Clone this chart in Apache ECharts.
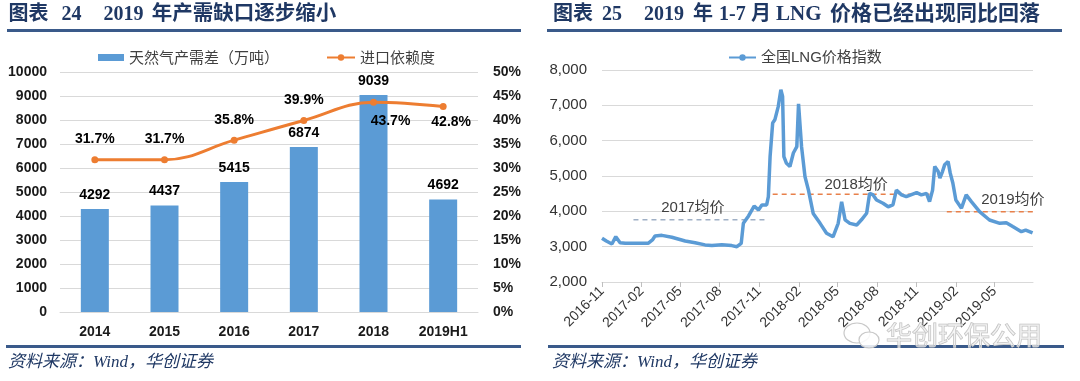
<!DOCTYPE html>
<html><head><meta charset="utf-8">
<script src="https://cdn.jsdelivr.net/npm/echarts@6/dist/echarts.min.js"></script>
<style>html,body{margin:0;padding:0;background:#fff}#c{width:1080px;height:381px}</style>
</head><body><div id="c"></div>
<script>
// ---------- Left chart data ----------
const years = ['2014', '2015', '2016', '2017', '2018', '2019H1'];
const gapValues = [4292, 4437, 5415, 6874, 9039, 4692];
const importDependence = [31.7, 31.7, 35.8, 39.9, 43.7, 42.8];

// ---------- Right chart data ----------
const lngDates = ['2016-11-01','2016-11-11','2016-11-24','2016-12-03','2016-12-13','2016-12-25','2017-01-17','2017-02-16','2017-02-26','2017-03-04','2017-03-20','2017-04-12','2017-05-13','2017-06-05','2017-06-28','2017-07-14','2017-08-06','2017-08-29','2017-09-10','2017-09-20','2017-09-25','2017-10-07','2017-10-20','2017-10-30','2017-11-07','2017-11-18','2017-11-22','2017-11-26','2017-12-02','2017-12-07','2017-12-11','2017-12-15','2017-12-21','2017-12-25','2017-12-28','2018-01-03','2018-01-11','2018-01-19','2018-01-27','2018-01-31','2018-02-07','2018-02-15','2018-02-23','2018-03-06','2018-03-22','2018-04-06','2018-04-21','2018-05-03','2018-05-11','2018-05-19','2018-05-30','2018-06-15','2018-06-26','2018-07-08','2018-07-15','2018-07-23','2018-07-31','2018-08-15','2018-08-27','2018-09-07','2018-09-15','2018-09-27','2018-10-08','2018-11-01','2018-11-12','2018-11-24','2018-12-01','2018-12-08','2018-12-13','2018-12-21','2018-12-25','2018-12-31','2019-01-05','2019-01-13','2019-01-18','2019-01-24','2019-01-31','2019-02-13','2019-02-24','2019-03-08','2019-03-27','2019-04-19','2019-05-13','2019-05-28','2019-06-12','2019-07-02','2019-07-12','2019-07-28'];
const lngValues = [3240,3160,3075,3283,3113,3095,3095,3095,3190,3300,3320,3266,3160,3113,3050,3030,3057,3030,3000,3094,3660,3870,4150,4040,4180,4180,4415,5550,6500,6590,6540,6970,7440,7250,5550,5360,5270,5650,5830,7040,5830,4980,4600,3940,3660,3380,3280,3660,4270,3760,3660,3615,3760,3945,4510,4465,4320,4230,4130,4180,4600,4465,4415,4530,4465,4510,4275,4600,5270,5125,4940,5125,5315,5410,5080,4800,4320,4090,4465,4275,3990,3755,3660,3680,3570,3425,3470,3390];
const avgNames = ['2017均价', '2018均价', '2019均价'];
const avgValues = [3760, 4480, 3990];
const avgStart = ['2017-01-13', '2017-12-02', '2019-01-10'];
const avgEnd = ['2017-11-22', '2018-12-01', '2019-07-29'];
const xTickDates = ['2016-11-01','2017-02-01','2017-05-01','2017-08-01','2017-11-01','2018-02-01','2018-05-01','2018-08-01','2018-11-01','2019-02-01','2019-05-01'];
const xRange = ['2016-11-01', '2019-07-29'];

function ts(s) { const p = s.split('-').map(Number); return new Date(p[0], p[1] - 1, p[2]).getTime(); }
function ym(v) { const d = new Date(v); return d.getFullYear() + '-' + String(d.getMonth() + 1).padStart(2, '0'); }

const NAVY = '#1F3864';
const RULE = '#3A5A8A';
const GRID = '#D9D9D9';
const TXT = '#404040';
const titleFont = 'bold 20px "Liberation Serif","Noto Sans CJK SC",serif';

function txt(text, x, y, font, fill, z) {
  return { type: 'text', x: x, y: y, z: z || 10, style: { text: text, font: font, fill: fill, verticalAlign: 'middle', align: 'left' } };
}
function rule(x1, x2, y) {
  return { type: 'line', z: 5, shape: { x1: x1, y1: y, x2: x2, y2: y }, style: { stroke: RULE, lineWidth: 3 } };
}

const lineLabelCfg = (i) => {
  if (i === 4) return { position: 'bottom', offset: [17, 3] };
  if (i === 5) return { position: 'bottom', offset: [8, 0] };
  return { position: 'top', distance: 10 };
};
const avgLabelOffsets = [[-8, -12], [5, -10], [23, -12]];

const avgSeries = avgNames.map((n, k) => ({
  name: n, type: 'line', xAxisIndex: 1, yAxisIndex: 2, symbol: 'none', silent: true,
  lineStyle: { width: 1.5, type: [5, 4], color: k === 0 ? '#9FB0C6' : '#E8804A' },
  data: [[ts(avgStart[k]), avgValues[k]], [ts(avgEnd[k]), avgValues[k]]],
  markPoint: {
    symbol: 'circle', symbolSize: 0, silent: true,
    label: { show: true, formatter: n, color: TXT, fontSize: 15, fontFamily: '"Liberation Sans","Noto Sans CJK SC",sans-serif', offset: avgLabelOffsets[k] },
    data: [{ coord: [(ts(avgStart[k]) + ts(avgEnd[k])) / 2, avgValues[k]] }]
  }
}));

const chart = echarts.init(document.getElementById('c'), null, { renderer: 'canvas' });
chart.setOption({
  animation: false,
  backgroundColor: '#fff',
  textStyle: { fontFamily: '"Liberation Sans","Noto Sans CJK SC",sans-serif' },
  legend: [
    { left: 93, top: 45, data: ['天然气产需差（万吨）'], icon: 'rect', itemWidth: 26, itemHeight: 7,
      textStyle: { fontSize: 15, color: TXT, fontFamily: '"Noto Sans CJK SC",sans-serif' } },
    { left: 321, top: 45, data: ['进口依赖度'], itemWidth: 28, itemHeight: 8,
      textStyle: { fontSize: 15, color: TXT, fontFamily: '"Noto Sans CJK SC",sans-serif' } },
    { left: 723, top: 45, data: ['全国LNG价格指数'], itemWidth: 27, itemHeight: 8,
      textStyle: { fontSize: 15, color: TXT, fontFamily: '"Liberation Sans","Noto Sans CJK SC",sans-serif' } }
  ],
  grid: [
    { left: 60, right: 602, top: 72, bottom: 69 },
    { left: 602, right: 47, top: 70, bottom: 99 }
  ],
  xAxis: [
    { type: 'category', gridIndex: 0, data: years,
      axisLine: { lineStyle: { color: GRID } }, axisTick: { show: false },
      axisLabel: { fontSize: 14, fontWeight: 'bold', color: '#1a1a1a', margin: 13 } },
    { type: 'value', gridIndex: 1, min: ts(xRange[0]), max: ts(xRange[1]), scale: true,
      axisLine: { show: true, lineStyle: { color: GRID } },
      axisTick: { show: true, customValues: xTickDates.map(ts), length: 5, lineStyle: { color: '#BFBFBF' } },
      axisLabel: { customValues: xTickDates.map(ts), rotate: 45, formatter: ym, fontSize: 14, color: '#333', margin: 7, hideOverlap: false },
      splitLine: { show: false } }
  ],
  yAxis: [
    { type: 'value', gridIndex: 0, min: 0, max: 10000, interval: 1000,
      axisLine: { show: false }, axisTick: { show: false },
      axisLabel: { fontSize: 14, fontWeight: 'bold', color: '#1a1a1a', margin: 13, formatter: v => String(v) },
      splitLine: { lineStyle: { color: GRID } } },
    { type: 'value', gridIndex: 0, min: 0, max: 50, interval: 5, position: 'right',
      axisLine: { show: false }, axisTick: { show: false },
      axisLabel: { fontSize: 14, fontWeight: 'bold', color: '#1a1a1a', margin: 15, formatter: v => v + '%' },
      splitLine: { show: false } },
    { type: 'value', gridIndex: 1, min: 2000, max: 8000, interval: 1000,
      axisLine: { show: false }, axisTick: { show: false },
      axisLabel: { fontSize: 15, color: '#333', margin: 15, formatter: v => v.toLocaleString('en-US') },
      splitLine: { lineStyle: { color: GRID } } }
  ],
  series: [
    { name: '天然气产需差（万吨）', type: 'bar', xAxisIndex: 0, yAxisIndex: 0, barWidth: 28,
      itemStyle: { color: '#5B9BD5' }, data: gapValues,
      label: { show: true, position: 'top', distance: 7, fontSize: 14, fontWeight: 'bold', color: '#000' } },
    { name: '进口依赖度', type: 'line', xAxisIndex: 0, yAxisIndex: 1, smooth: 0.4,
      symbol: 'circle', symbolSize: 7, itemStyle: { color: '#ED7D31' }, lineStyle: { width: 3, color: '#ED7D31' },
      data: importDependence.map((v, i) => ({ value: v, label: lineLabelCfg(i) })),
      label: { show: true, fontSize: 14, fontWeight: 'bold', color: '#000', formatter: p => p.value.toFixed(1) + '%' } },
    { name: '全国LNG价格指数', type: 'line', xAxisIndex: 1, yAxisIndex: 2, symbol: 'none',
      itemStyle: { color: '#5B9BD5' }, lineStyle: { width: 3.5, color: '#5B9BD5' }, z: 5,
      data: lngDates.map((d, i) => [ts(d), lngValues[i]]) }
  ].concat(avgSeries),
  graphic: [
    txt('图表', 8.6, 15, titleFont, NAVY),
    txt('24', 61.4, 15, titleFont, NAVY),
    txt('2019', 103.5, 15, titleFont, NAVY),
    txt('年产需缺口逐步缩小', 151.8, 15, 'bold 20.5px "Liberation Serif","Noto Sans CJK SC",serif', NAVY),
    txt('图表', 553, 14.5, titleFont, NAVY),
    txt('25', 602, 14.5, titleFont, NAVY),
    txt('2019', 644, 14.5, titleFont, NAVY),
    txt('年', 693, 14.5, titleFont, NAVY),
    txt('1-7', 719, 14.5, titleFont, NAVY),
    txt('月', 751, 14.5, titleFont, NAVY),
    txt('LNG', 776, 14.5, 'bold 21px "Liberation Serif","Noto Sans CJK SC",serif', NAVY),
    txt('价格已经出现同比回落', 830, 14.5, 'bold 21px "Liberation Serif","Noto Sans CJK SC",serif', NAVY),
    rule(7, 521, 30.5), rule(547, 1062, 30.5),
    rule(6, 521, 346.5), rule(548, 1064, 346.5),
    txt('资料来源：Wind，华创证券', 8, 363, 'italic 17px "Liberation Serif","Noto Sans CJK SC",serif', NAVY),
    txt('资料来源：Wind，华创证券', 552, 363, 'italic 17px "Liberation Serif","Noto Sans CJK SC",serif', NAVY),
    { type: 'ellipse', z: 20, shape: { cx: 857, cy: 333, rx: 13, ry: 10 }, style: { fill: 'rgba(255,255,255,0.85)', stroke: '#c8c8c8', lineWidth: 1.2 } },
    { type: 'ellipse', z: 21, shape: { cx: 869, cy: 340, rx: 10, ry: 8 }, style: { fill: 'rgba(255,255,255,0.85)', stroke: '#c8c8c8', lineWidth: 1.2 } },
    { type: 'text', x: 886, y: 335, z: 22, style: { text: '华创环保公用', font: '26px "Noto Sans CJK SC",sans-serif', fill: 'rgba(240,240,240,0.6)', stroke: '#bdbdbd', lineWidth: 1, verticalAlign: 'middle', align: 'left' } }
  ]
});
</script></body></html>
